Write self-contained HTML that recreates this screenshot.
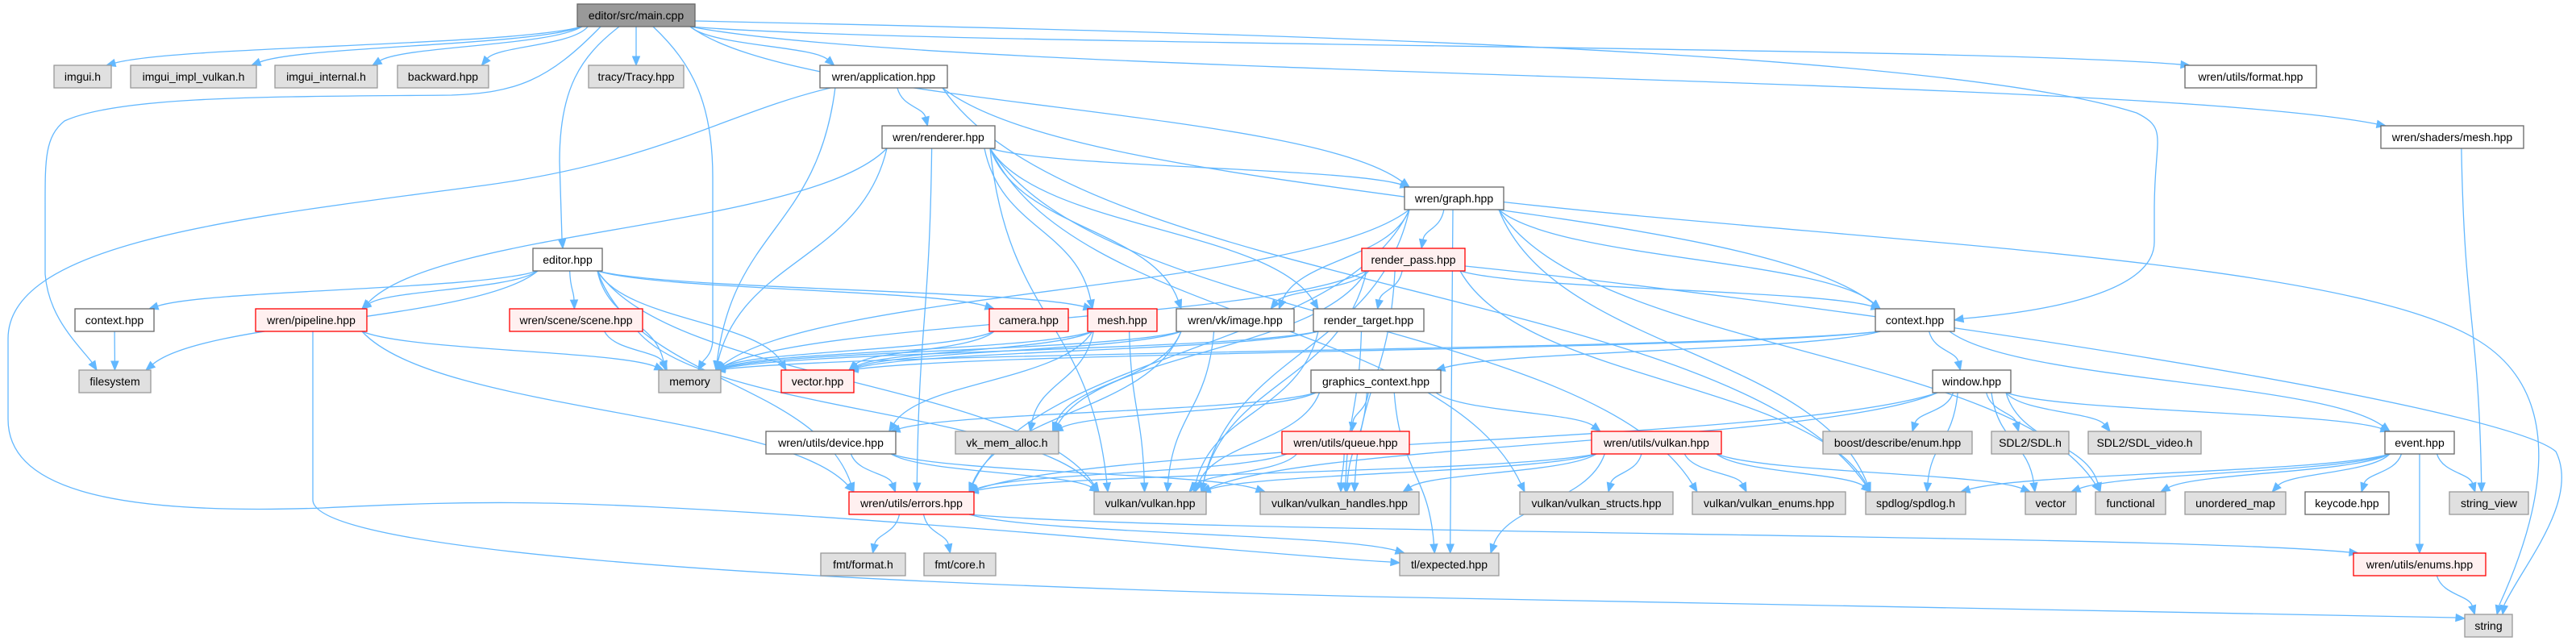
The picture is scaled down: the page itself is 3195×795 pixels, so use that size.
<!DOCTYPE html>
<html><head><meta charset="utf-8"><style>
html,body{margin:0;padding:0;background:#fff;width:3195px;height:795px;overflow:hidden}
svg text{font-family:"Liberation Sans","DejaVu Sans",sans-serif;font-size:14px;fill:#000}
</style></head><body>
<svg id="g" width="3195" height="795" viewBox="0 0 3195 795" xmlns="http://www.w3.org/2000/svg">
<g id="edges" fill="none" stroke="#63b8ff" stroke-width="1.3"></g>
<g id="arrows" fill="#63b8ff" stroke="#63b8ff"></g>
<g id="nodes"></g>
</svg>
<script>
var N={
main:["editor/src/main.cpp",716,5,862,33,"m"],
imgui:["imgui.h",67,81,138,109,"g"],
impl:["imgui_impl_vulkan.h",162,81,318,109,"g"],
internal:["imgui_internal.h",341,81,468,109,"g"],
backward:["backward.hpp",493,81,606,109,"g"],
tracy:["tracy/Tracy.hpp",730,81,848,109,"g"],
app:["wren/application.hpp",1017,81,1175,109,"w"],
format:["wren/utils/format.hpp",2710,81,2873,109,"w"],
renderer:["wren/renderer.hpp",1094,156,1234,184,"w"],
smesh:["wren/shaders/mesh.hpp",2953,156,3130,184,"w"],
graph:["wren/graph.hpp",1742,232,1865,260,"w"],
editor:["editor.hpp",661,308,747,336,"w"],
rpass:["render_pass.hpp",1689,308,1817,336,"r"],
ctxl:["context.hpp",93,383,191,411,"w"],
pipeline:["wren/pipeline.hpp",317,383,455,411,"r"],
scene:["wren/scene/scene.hpp",632,383,797,411,"r"],
camera:["camera.hpp",1227,383,1325,411,"r"],
mesh:["mesh.hpp",1349,383,1435,411,"r"],
image:["wren/vk/image.hpp",1459,383,1605,411,"w"],
rtarget:["render_target.hpp",1629,383,1766,411,"w"],
ctx:["context.hpp",2326,383,2424,411,"w"],
fs:["filesystem",98,459,187,487,"g"],
memory:["memory",817,459,894,487,"g"],
vec:["vector.hpp",969,459,1059,487,"r"],
gctx:["graphics_context.hpp",1626,459,1787,487,"w"],
window:["window.hpp",2397,459,2494,487,"w"],
device:["wren/utils/device.hpp",950,535,1111,563,"w"],
vma:["vk_mem_alloc.h",1185,535,1313,563,"g"],
queue:["wren/utils/queue.hpp",1590,535,1748,563,"r"],
uvk:["wren/utils/vulkan.hpp",1974,535,2135,563,"r"],
boost:["boost/describe/enum.hpp",2261,535,2446,563,"g"],
sdl:["SDL2/SDL.h",2470,535,2566,563,"g"],
sdlv:["SDL2/SDL_video.h",2590,535,2730,563,"g"],
event:["event.hpp",2958,535,3044,563,"w"],
errors:["wren/utils/errors.hpp",1053,610,1208,638,"r"],
vk:["vulkan/vulkan.hpp",1357,610,1496,638,"g"],
handles:["vulkan/vulkan_handles.hpp",1563,610,1760,638,"g"],
structs:["vulkan/vulkan_structs.hpp",1885,610,2075,638,"g"],
enums:["vulkan/vulkan_enums.hpp",2099,610,2289,638,"g"],
spdlog:["spdlog/spdlog.h",2314,610,2438,638,"g"],
vector:["vector",2512,610,2575,638,"g"],
functional:["functional",2599,610,2686,638,"g"],
umap:["unordered_map",2710,610,2835,638,"g"],
keycode:["keycode.hpp",2859,610,2963,638,"w"],
sview:["string_view",3038,610,3136,638,"g"],
fmtf:["fmt/format.h",1018,686,1123,714,"g"],
fmtc:["fmt/core.h",1146,686,1235,714,"g"],
expected:["tl/expected.hpp",1736,686,1859,714,"g"],
uenums:["wren/utils/enums.hpp",2919,686,3083,714,"r"],
string:["string",3057,762,3116,790,"g"]
};
var E=[
["main","imgui"],["main","impl"],["main","internal"],["main","backward"],["main","tracy"],["main","app"],["main","format"],["main","smesh"],["main","graph"],["main","editor"],["main","memory"],["main","ctx"],["main","fs"],
["app","renderer"],["app","memory"],["app","ctx"],["app","spdlog"],["app","expected"],
["renderer","pipeline"],["renderer","memory"],["renderer","errors"],["renderer","vk"],["renderer","mesh"],["renderer","rtarget"],["renderer","graph"],["renderer","structs"],["renderer","enums"],["renderer","image"],
["graph","rpass"],["graph","memory"],["graph","image"],["graph","errors"],["graph","vk"],["graph","ctx"],["graph","string"],["graph","spdlog"],["graph","expected"],["graph","functional"],
["editor","ctxl"],["editor","fs"],["editor","scene"],["editor","memory"],["editor","camera"],["editor","mesh"],["editor","vec"],["editor","errors"],["editor","vk"],["editor","pipeline"],
["rpass","rtarget"],["rpass","memory"],["rpass","image"],["rpass","vk"],["rpass","ctx"],["rpass","string"],["rpass","vma"],["rpass","handles"],["rpass","spdlog"],
["ctxl","fs"],
["pipeline","memory"],["pipeline","errors"],["pipeline","string"],
["scene","memory"],["scene","vk"],
["camera","vec"],["camera","memory"],
["mesh","vec"],["mesh","memory"],["mesh","device"],["mesh","vma"],["mesh","vk"],
["image","vec"],["image","memory"],["image","vma"],["image","errors"],["image","vk"],
["rtarget","memory"],["rtarget","vk"],["rtarget","handles"],["rtarget","vec"],
["ctx","gctx"],["ctx","window"],["ctx","event"],["ctx","memory"],["ctx","vec"],
["gctx","queue"],["gctx","vk"],["gctx","vma"],["gctx","device"],["gctx","uvk"],["gctx","handles"],["gctx","expected"],
["window","boost"],["window","sdl"],["window","sdlv"],["window","event"],["window","spdlog"],["window","vector"],["window","errors"],["window","vk"],["window","functional"],
["device","errors"],["device","vk"],["device","handles"],
["queue","handles"],["queue","vk"],["queue","errors"],
["uvk","structs"],["uvk","enums"],["uvk","spdlog"],["uvk","vector"],["uvk","handles"],["uvk","vk"],["uvk","expected"],["uvk","errors"],
["event","vector"],["event","functional"],["event","umap"],["event","keycode"],["event","sview"],["event","uenums"],["event","spdlog"],
["errors","fmtf"],["errors","fmtc"],["errors","expected"],["errors","uenums"],
["uenums","string"],["smesh","sview"]
];
var NS="http://www.w3.org/2000/svg";
function el(t,a,p){var e=document.createElementNS(NS,t);for(var k in a)e.setAttribute(k,a[k]);p.appendChild(e);return e;}
var ng=document.getElementById("nodes"),eg=document.getElementById("edges"),ag=document.getElementById("arrows");
var sty={m:["#999999","#666666"],g:["#e0e0e0","#999999"],w:["#ffffff","#666666"],r:["#fff0f0","#ff0000"]};
for(var k in N){var n=N[k],s=sty[n[5]];
el("rect",{x:n[1],y:n[2],width:n[3]-n[1],height:n[4]-n[2],fill:s[0],stroke:s[1],"stroke-width":1.3},ng);
var t=el("text",{x:(n[1]+n[3])/2,y:n[2]+19,"text-anchor":"middle"},ng);t.textContent=n[0];
var w=t.getComputedTextLength?t.getComputedTextLength():0,maxw=n[3]-n[1]-14;
if(w>maxw&&w>0){t.setAttribute("textLength",maxw);t.setAttribute("lengthAdjust","spacingAndGlyphs");}}
function arrow(x,y,dx,dy){var L=Math.hypot(dx,dy)||1;dx/=L;dy/=L;var l=11,w=4.5;
var bx=x-dx*l,by=y-dy*l;el("polygon",{points:x+","+y+" "+(bx-dy*w)+","+(by+dx*w)+" "+(bx+dy*w)+","+(by-dx*w)},ag);}
/* special: [path to end point before arrow, arrow tip x, tip y] */
var special={
"main|fs":["M745,33 C680,100 640,115 560,118 C350,120 150,118 80,150 C55,170 56,200 56,260 L56,340 C60,390 90,420 113,448",120,459],
"main|memory":["M810,33 C860,80 884,130 884,220 L884,420 C884,435 878,442 872,448",866,459],
"main|editor":["M768,33 C720,70 694,110 694,200 L697,296",698,308],
"main|ctx":["M862,26 C1500,40 2400,60 2650,140 C2690,160 2672,170 2672,260 L2672,300 C2672,360 2550,385 2436,395",2424,397],
"graph|string":["M1860,250 C2300,300 2900,320 3070,420 C3190,490 3150,640 3100,750",3097,762],
"rpass|string":["M1817,330 C2300,380 3100,500 3170,560 C3200,620 3130,700 3106,750",3104,762],
"pipeline|string":["M388,411 L388,620 C388,680 900,720 1700,740 C2400,755 2900,760 3045,766",3057,767],
"app|expected":["M1030,109 C900,140 820,200 600,230 C300,270 10,300 10,420 L10,520 C10,600 120,640 400,630 C600,620 700,620 1000,640 C1300,660 1600,690 1724,697",1736,698]
};
E.forEach(function(e){var a=N[e[0]],b=N[e[1]];var key=e[0]+"|"+e[1];
var acx=(a[1]+a[3])/2,bcx=(b[1]+b[3])/2;
if(special[key]){var sp=special[key];el("path",{d:sp[0]},eg);
var m=sp[0].match(/([\d.]+),([\d.]+)\s*$/);var ex=+m[1],ey=+m[2];
el("line",{x1:ex,y1:ey,x2:sp[1],y2:sp[2]},eg);arrow(sp[1],sp[2],sp[1]-ex,sp[2]-ey);return;}
var sx=acx+(bcx-acx)*0.25,hw=(a[3]-a[1])/2-6;sx=Math.max(acx-hw,Math.min(acx+hw,sx));
var tx=bcx+(acx-bcx)*0.2,hw2=(b[3]-b[1])/2-6;tx=Math.max(bcx-hw2,Math.min(bcx+hw2,tx));
var sy=a[4],ty=b[2];
var dy=ty-sy,dx=tx-sx;
var c1x=sx+dx*0.15,c1y=sy+dy*0.5,c2x=tx-dx*0.15,c2y=ty-dy*0.5;
var vx=tx-c2x,vy=ty-c2y;var L=Math.hypot(vx,vy)||1;
var endx=tx-vx/L*11,endy=ty-vy/L*11;
el("path",{d:"M"+sx+","+sy+" C"+c1x+","+c1y+" "+c2x+","+c2y+" "+endx+","+endy},eg);
arrow(tx,ty,vx,vy);
});
</script>
</body></html>
